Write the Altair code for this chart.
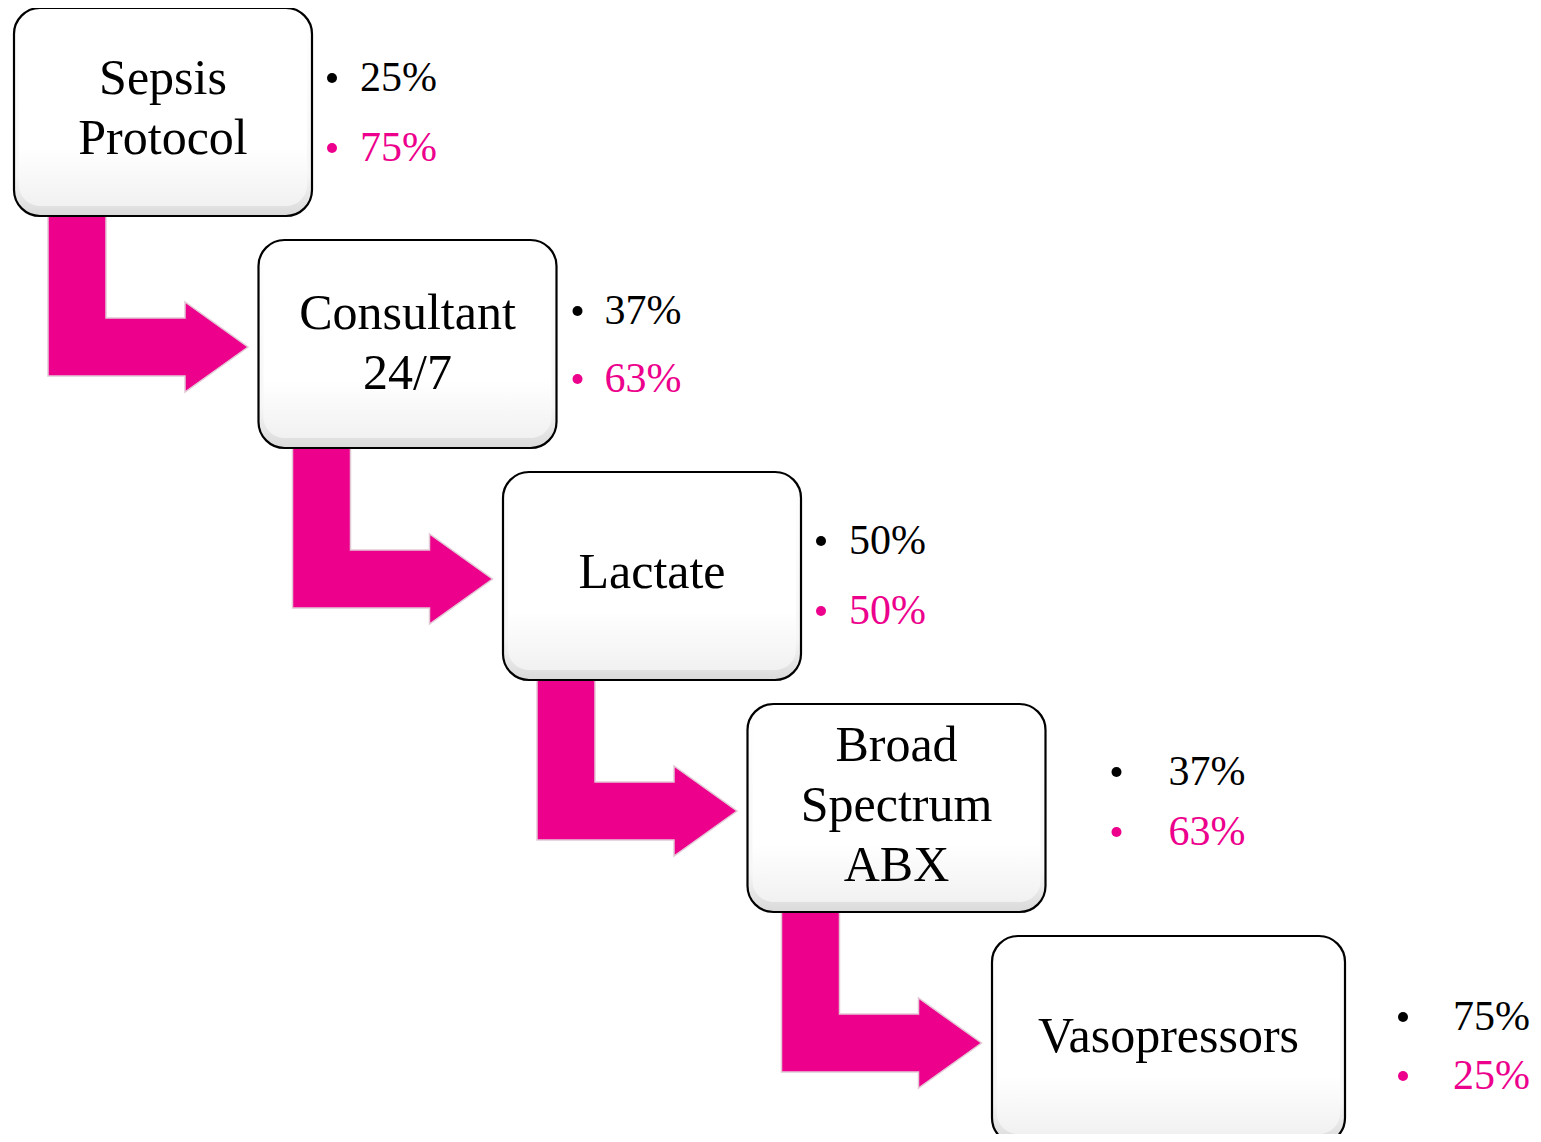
import altair as alt
import pandas as pd

# ---- data ----
steps = ["Sepsis\nProtocol", "Consultant\n24/7", "Lactate", "Broad\nSpectrum\nABX", "Vasopressors"]
black_pct = [25, 37, 50, 37, 75]
pink_pct = [75, 63, 50, 63, 25]

# ---- layout (image pixel coordinates) ----
BOX_X0, BOX_DX = 14, 244.5
BOX_Y0, BOX_DY = 8, 232
BOX_W = [298, 298, 298, 298, 353]
BOX_H = 208
LABEL_DY = [101, 104, 101, 102, 101]
LINE_H = 60
BULLET_DX = [20, 21, 20, 71, 58]
TEXT_GAP = [28, 27, 28, 52, 50]
PCT_TOP = [70, 71, 69, 68, 81]
PCT_GAP = [70, 68, 70, 60, 59]
PINK = "#EC008C"
FONT = "Liberation Serif"

boxes, pcts, arrows = [], [], []
for i, name in enumerate(steps):
    L = BOX_X0 + i * BOX_DX
    T = BOX_Y0 + i * BOX_DY
    R = L + BOX_W[i]
    B = T + BOX_H
    n_lines = name.count("\n") + 1
    boxes.append(dict(i=i, label=name, left=L, right=R, top=T, bottom=B,
                      il=L + 5, ir=R - 5, it=T + 5, ib=B - 10,
                      cx=(L + R) / 2,
                      cy=T + LABEL_DY[i] - (n_lines - 1) * LINE_H / 2))
    bx = R + BULLET_DX[i]
    for k, (grp, val) in enumerate([("black", black_pct[i]), ("pink", pink_pct[i])]):
        pcts.append(dict(grp=grp, bx=bx, tx=bx + TEXT_GAP[i],
                         y=T + PCT_TOP[i] + k * PCT_GAP[i], txt=f"{val}%"))
    if i < len(steps) - 1:
        e = 0.01
        pts = [(L + 34, T + 208, T + 368), (L + 92, T + 208, T + 368),
               (L + 92 + e, T + 310, T + 368), (L + 171, T + 310, T + 368),
               (L + 171 + e, T + 294, T + 384), (L + 234, T + 339, T + 339)]
        for s, (x, y1, y2) in enumerate(pts):
            arrows.append(dict(a=i, seq=s, x=x, y1=y1, y2=y2))

boxes = pd.DataFrame(boxes)
pcts = pd.DataFrame(pcts)
arrows = pd.DataFrame(arrows)

xs = alt.Scale(domain=[8, 1533], nice=False, zero=False)
ys = alt.Scale(domain=[8, 1134], nice=False, zero=False, reverse=True)

arrow_layer = alt.Chart(arrows).mark_area(
    color=PINK, stroke="#e3c9d6", strokeWidth=1.5, interpolate="linear",
    orient="vertical",
).encode(
    x=alt.X("x:Q", scale=xs, axis=None),
    y=alt.Y("y1:Q", scale=ys, axis=None),
    y2="y2:Q",
    detail="a:N",
)

outer = alt.Chart(boxes).mark_rect(
    cornerRadius=26, stroke="black", strokeWidth=2.2,
    fill=alt.Gradient(gradient="linear", x1=0, x2=0, y1=0, y2=1,
                      stops=[alt.GradientStop(offset=0, color="#ffffff"),
                             alt.GradientStop(offset=0.8, color="#f6f6f6"),
                             alt.GradientStop(offset=1, color="#dadada")]),
).encode(
    x=alt.X("left:Q", scale=xs, axis=None), x2="right:Q",
    y=alt.Y("top:Q", scale=ys, axis=None), y2="bottom:Q",
)

inner = alt.Chart(boxes).mark_rect(
    cornerRadius=21,
    fill=alt.Gradient(gradient="linear", x1=0, x2=0, y1=0, y2=1,
                      stops=[alt.GradientStop(offset=0, color="#ffffff"),
                             alt.GradientStop(offset=0.7, color="#ffffff"),
                             alt.GradientStop(offset=1, color="#f1f1f1")]),
).encode(
    x=alt.X("il:Q", scale=xs, axis=None), x2="ir:Q",
    y=alt.Y("it:Q", scale=ys, axis=None), y2="ib:Q",
)

labels = alt.Chart(boxes).mark_text(
    font=FONT, fontSize=50, lineBreak="\n", lineHeight=LINE_H,
    align="center", baseline="middle", color="black",
).encode(
    x=alt.X("cx:Q", scale=xs, axis=None),
    y=alt.Y("cy:Q", scale=ys, axis=None),
    text="label:N",
)

cscale = alt.Scale(domain=["black", "pink"], range=["#000000", PINK])

bullets = alt.Chart(pcts).mark_circle(size=100, opacity=1).encode(
    x=alt.X("bx:Q", scale=xs, axis=None),
    y=alt.Y("y:Q", scale=ys, axis=None),
    color=alt.Color("grp:N", scale=cscale, legend=None),
)

pct_text = alt.Chart(pcts).mark_text(
    font=FONT, fontSize=42, align="left", baseline="middle",
).encode(
    x=alt.X("tx:Q", scale=xs, axis=None),
    y=alt.Y("y:Q", scale=ys, axis=None),
    text="txt:N",
    color=alt.Color("grp:N", scale=cscale, legend=None),
)

chart = alt.layer(arrow_layer, outer, inner, labels, bullets, pct_text).properties(
    width=1525, height=1126,
    autosize=alt.AutoSizeParams(type="none"),
    padding=0, background="white",
).configure_view(stroke=None)

chart.save("out.html", embed_options={"renderer": "svg", "actions": False})
